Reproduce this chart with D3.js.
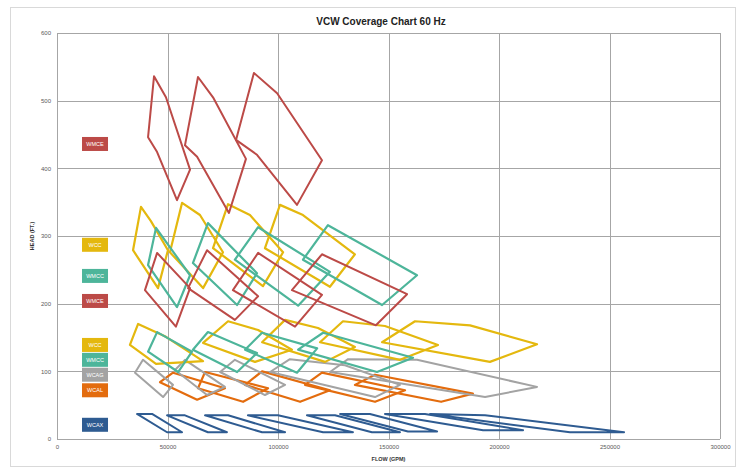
<!DOCTYPE html>
<html>
<head>
<meta charset="utf-8">
<script src="https://cdn.jsdelivr.net/npm/d3@7"></script>
<style>
  body { margin: 0; background: #fff; }
  svg { font-family: 'Liberation Sans', Arial, sans-serif; }
  .tick text { fill: #595959; font-size: 6px; }
</style>
</head>
<body>
<svg id="chart"></svg>
<script>
//
// Data: each series is a list of coverage polygons [flow (GPM), head (ft)]
//

const xTicks = [0, 50000, 100000, 150000, 200000, 250000, 300000];
const yTicks = [0, 100, 200, 300, 400, 500, 600];

const wmceUpper = [
  [[43900, 536], [49300, 505], [60200, 398], [54300, 353], [45300, 424], [41200, 446]],
  [[63800, 535], [70600, 505], [85500, 414], [77800, 334], [63400, 417], [57900, 434]],
  [[89100, 541], [99600, 511], [119900, 412], [108600, 346], [90500, 420], [81000, 442]]
];

const wccUpper = [
  [[38000, 343], [42500, 322], [50200, 279], [45700, 223], [34400, 279]],
  [[56600, 349], [64700, 331], [75100, 276], [66100, 223], [51100, 276]],
  [[77400, 347], [87300, 331], [102300, 276], [93200, 226], [70600, 282]],
  [[100900, 346], [111300, 331], [134800, 273], [123500, 225], [94100, 282]]
];

const wmccUpper = [
  [[44800, 312], [60200, 242], [54300, 195], [41200, 257]],
  [[68300, 319], [90500, 245], [81500, 198], [61500, 260]],
  [[91000, 313], [123500, 247], [109100, 197], [80500, 265]],
  [[122600, 316], [162900, 242], [147100, 198], [111300, 265]]
];

const wmceLower = [
  [[45300, 275], [60200, 223], [53800, 166], [39800, 220]],
  [[67900, 279], [91000, 211], [80500, 176], [59300, 223]],
  [[91000, 275], [119900, 213], [107700, 166], [79600, 220]],
  [[119900, 273], [158400, 214], [144300, 168], [106300, 220]]
];

const wccLower = [
  [[36700, 170], [49300, 151], [66100, 115], [44800, 111], [33000, 139]],
  [[77400, 174], [91000, 161], [106300, 132], [89600, 114], [66100, 142]],
  [[103200, 176], [118100, 164], [134800, 136], [121300, 114], [92800, 143]],
  [[129400, 174], [148400, 167], [172400, 139], [155200, 117], [119000, 143]],
  [[162000, 174], [186900, 168], [217200, 140], [195900, 114], [147100, 143]]
];

const wmccLower = [
  [[45300, 158], [61100, 129], [54800, 99], [41200, 129]],
  [[68300, 158], [90500, 127], [81500, 99], [61500, 132]],
  [[92800, 157], [117700, 134], [108600, 98], [85100, 132]],
  [[120400, 157], [161100, 120], [144800, 99], [109100, 132]]
];

const wcag = [
  [[38900, 117], [52500, 80], [48000, 62], [35300, 98]],
  [[57900, 117], [76000, 77], [67900, 65], [53400, 102]],
  [[80500, 117], [103200, 80], [94100, 65], [73800, 99]],
  [[105400, 118], [130300, 109], [155200, 80], [143900, 62], [96400, 99]],
  [[131700, 118], [162900, 117], [217200, 77], [193700, 62], [123500, 99]]
];

const wcal = [
  [[52500, 98], [76000, 75], [63400, 58], [46600, 84]],
  [[67000, 99], [95500, 75], [84200, 55], [63800, 75]],
  [[92800, 100], [123500, 72], [110000, 55], [85100, 80]],
  [[119900, 98], [157500, 72], [143900, 55], [112200, 80]],
  [[143900, 95], [188200, 67], [173800, 55], [134800, 80]]
];

const wcax = [
  [[36200, 37], [43000, 37], [56600, 10], [49800, 10]],
  [[49800, 35], [57900, 35], [76900, 10], [68300, 10]],
  [[67000, 35], [77400, 35], [103200, 10], [92800, 10]],
  [[86400, 35], [100000, 35], [133900, 10], [120400, 10]],
  [[113100, 35], [125800, 35], [155200, 10], [142500, 10]],
  [[128100, 37], [141600, 37], [172000, 11], [158800, 11]],
  [[148400, 37], [166500, 37], [210900, 13], [192800, 13]],
  [[168800, 37], [193700, 35], [256600, 10], [232100, 10]]
];

// series labels placed on the chart: [text, head]
const labelNames = ['WMCE', 'WCC', 'WMCC', 'WMCE', 'WCC', 'WMCC', 'WCAG', 'WCAL', 'WCAX'];
const labelHeads = [436, 287, 241, 204, 139, 117, 95, 72, 21];
const labelFlow = 17200;

const colors = {
  red: '#BC4A47',
  yellow: '#E4B80E',
  teal: '#4DB59A',
  gray: '#A3A3A3',
  orange: '#E36C0E',
  blue: '#2E5B91'
};
const labelColors = ['red', 'yellow', 'teal', 'red', 'yellow', 'teal', 'gray', 'orange', 'blue'];

// draw order (bottom first)
const series = [
  { polys: wcax, color: 'blue', width: 2 },
  { polys: wcal, color: 'orange', width: 2.2 },
  { polys: wcag, color: 'gray', width: 2 },
  { polys: wccLower, color: 'yellow', width: 2.2 },
  { polys: wmccLower, color: 'teal', width: 2.2 },
  { polys: wccUpper, color: 'yellow', width: 2.2 },
  { polys: wmccUpper, color: 'teal', width: 2.2 },
  { polys: wmceLower, color: 'red', width: 2 },
  { polys: wmceUpper, color: 'red', width: 2 }
];

//
// Set-up
//

const W = 742;
const H = 470;
const margin = { left: 57, top: 33, right: 22, bottom: 31 };
const width = W - margin.left - margin.right;
const height = H - margin.top - margin.bottom;

const svg = d3.select('#chart')
  .attr('width', W)
  .attr('height', H);

// outer chart frame
svg.append('rect')
  .attr('x', 10.5).attr('y', 7.5)
  .attr('width', 725).attr('height', 459)
  .style('fill', '#fff')
  .style('stroke', '#d9d9d9');

svg.append('text')
  .attr('x', 381).attr('y', 25)
  .attr('text-anchor', 'middle')
  .style('font-size', '10px')
  .style('font-weight', 'bold')
  .style('fill', '#222')
  .text('VCW Coverage Chart 60 Hz');

const g = svg.append('g')
  .attr('transform', `translate(${margin.left},${margin.top})`);

const xScale = d3.scaleLinear().domain([0, 300000]).range([0, width]);
const yScale = d3.scaleLinear().domain([0, 600]).range([height, 0]);

// gridlines
g.append('g')
  .selectAll('line')
  .data(xTicks)
  .join('line')
    .attr('x1', d => Math.round(xScale(d)) + 0.5)
    .attr('x2', d => Math.round(xScale(d)) + 0.5)
    .attr('y1', 0).attr('y2', height)
    .style('stroke', '#a6a6a6');

g.append('g')
  .selectAll('line')
  .data(yTicks)
  .join('line')
    .attr('x1', 0).attr('x2', width)
    .attr('y1', d => Math.round(yScale(d)) + 0.5)
    .attr('y2', d => Math.round(yScale(d)) + 0.5)
    .style('stroke', '#a6a6a6');

// axes (labels only)
const xAxis = d3.axisBottom(xScale).tickValues(xTicks).tickSize(0).tickPadding(6).tickFormat(d3.format('d'));
const yAxis = d3.axisLeft(yScale).tickValues(yTicks).tickSize(0).tickPadding(6).tickFormat(d3.format('d'));

g.append('g')
  .attr('transform', `translate(0,${height})`)
  .call(xAxis)
  .call(a => a.select('.domain').remove());

g.append('g')
  .call(yAxis)
  .call(a => a.select('.domain').remove());

// axis titles
g.append('text')
  .attr('x', width / 2).attr('y', height + 22)
  .attr('text-anchor', 'middle')
  .style('font-size', '5.5px')
  .style('font-weight', 'bold')
  .style('fill', '#333')
  .text('FLOW (GPM)');

g.append('text')
  .attr('transform', `translate(-23,${height / 2}) rotate(-90)`)
  .attr('text-anchor', 'middle')
  .style('font-size', '5.5px')
  .style('font-weight', 'bold')
  .style('fill', '#333')
  .text('HEAD (FT.)');

//
// Coverage polygons
//

const line = d3.line()
  .x(d => xScale(d[0]))
  .y(d => yScale(d[1]))
  .curve(d3.curveLinearClosed);

series.forEach(s => {
  g.append('g')
    .selectAll('path')
    .data(s.polys)
    .join('path')
      .attr('d', line)
      .style('fill', 'none')
      .style('stroke', colors[s.color])
      .style('stroke-width', s.width)
      .style('stroke-linejoin', 'round');
});

//
// Series labels
//

const boxW = 26;
const boxH = 14;

const labels = g.append('g')
  .selectAll('g')
  .data(labelNames)
  .join('g')
    .attr('transform', (d, i) => `translate(${xScale(labelFlow)},${yScale(labelHeads[i])})`);

labels.append('rect')
  .attr('x', -boxW / 2).attr('y', -boxH / 2)
  .attr('width', boxW).attr('height', boxH)
  .style('fill', (d, i) => colors[labelColors[i]]);

labels.append('text')
  .attr('text-anchor', 'middle')
  .attr('dy', '0.35em')
  .style('font-size', '5.5px')
  .style('fill', '#fff')
  .text(d => d);
</script>
</body>
</html>
